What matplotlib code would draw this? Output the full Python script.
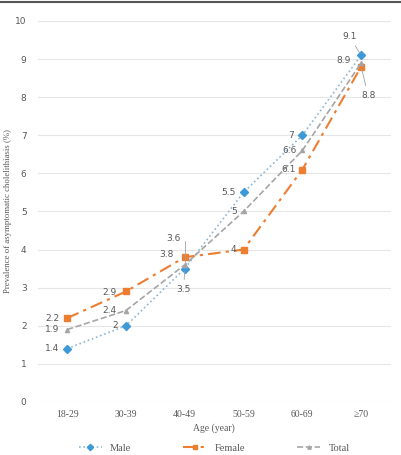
import numpy as np
import matplotlib.pyplot as plt

# Datos
ages = ['18-29', '30-39', '40-49', '50-59', '60-69', '≥70']
male = [1.4, 2, 3.5, 5.5, 7, 9.1]
female = [2.2, 2.9, 3.8, 4, 6.1, 8.8]
total = [1.9, 2.4, 3.6, 5, 6.6, 8.9]

c_male = '#3d9ad6'
c_female = '#ed7d31'
c_total = '#a5a5a5'
txt = '#595959'

fig = plt.figure(figsize=(4.01, 4.55), dpi=100)
ax = fig.add_axes([0.094, 0.1165, 0.88, 0.8375])
x = np.arange(len(ages))

ax.plot(x, male, ':', color='#8db6d6', lw=1.2, marker='D', ms=4,
        mfc=c_male, mec=c_male, label='Male')
ax.plot(x, female, '-.', color=c_female, lw=1.5, dashes=(6, 2.5, 1.5, 2.5),
        marker='s', ms=4, mfc=c_female, mec=c_female, label='Female')
ax.plot(x, total, '--', color=c_total, lw=1.2, marker='^', ms=3,
        mfc=c_total, mec=c_total, label='Total')

# Etiquetas de datos (offset en pixeles)
def lab(i, v, dx, dy, line=False, conn='arc3'):
    kw = dict(arrowprops=dict(arrowstyle='-', color='#a0a0a0', lw=0.6,
                              connectionstyle=conn)) if line else {}
    ax.annotate(f'{v:g}', (x[i], v), xytext=(dx, dy), textcoords='offset pixels',
                ha='center', va='center', fontsize=6.5, color=txt, **kw)

lab(0, male[0], -15, 0); lab(0, total[0], -15, 0); lab(0, female[0], -15, 0)
lab(1, male[1], -11, 0); lab(1, total[1], -16, 0); lab(1, female[1], -16, -1)
lab(2, total[2], -11, 26, line=True, conn='angle,angleA=0,angleB=90,rad=0')
lab(2, female[2], -18, 3); lab(2, male[2], -1, -21, line=True)
lab(3, male[3], -15, 0); lab(3, total[3], -9, 0); lab(3, female[3], -10, 0)
lab(4, male[4], -11, 0); lab(4, total[4], -13, 0); lab(4, female[4], -14, 0)
lab(5, male[5], -12, 19, line=True); lab(5, total[5], -18, 2); lab(5, female[5], 7, -29, line=True)

ax.set_xlim(-0.5, 5.5)
ax.set_ylim(0, 10)
ax.set_yticks(range(0, 11))
ax.set_xticks(x)
ax.set_xticklabels(ages, family='Liberation Serif', fontsize=7, color=txt)
ax.tick_params(axis='y', labelsize=6.5, labelcolor=txt, length=0, pad=8)
ax.tick_params(axis='x', length=0, pad=6)
ax.grid(axis='y', color='#e6e6e6', lw=0.8)
ax.set_axisbelow(True)
for s in ax.spines.values():
    s.set_visible(False)

ax.set_xlabel('Age (year)', family='Liberation Serif', fontsize=7, color=txt, labelpad=3)
ax.set_ylabel('Prevalence of asymptomatic cholelithiasis (%)', family='Liberation Serif',
              fontsize=6.3, color=txt)
ax.yaxis.set_label_coords(-0.072, 0.5)

ax.legend(loc='upper center', bbox_to_anchor=(0.5, -0.085), ncol=3, frameon=False,
          prop={'family': 'Liberation Serif', 'size': 7.5}, labelcolor=txt,
          columnspacing=5, handlelength=2.2, markerscale=0.8)

# linea superior del marco
fig.add_artist(plt.Line2D([0, 1], [0.995, 0.995], color='#555555', lw=1.5))

fig.savefig('out.png', dpi=100)
